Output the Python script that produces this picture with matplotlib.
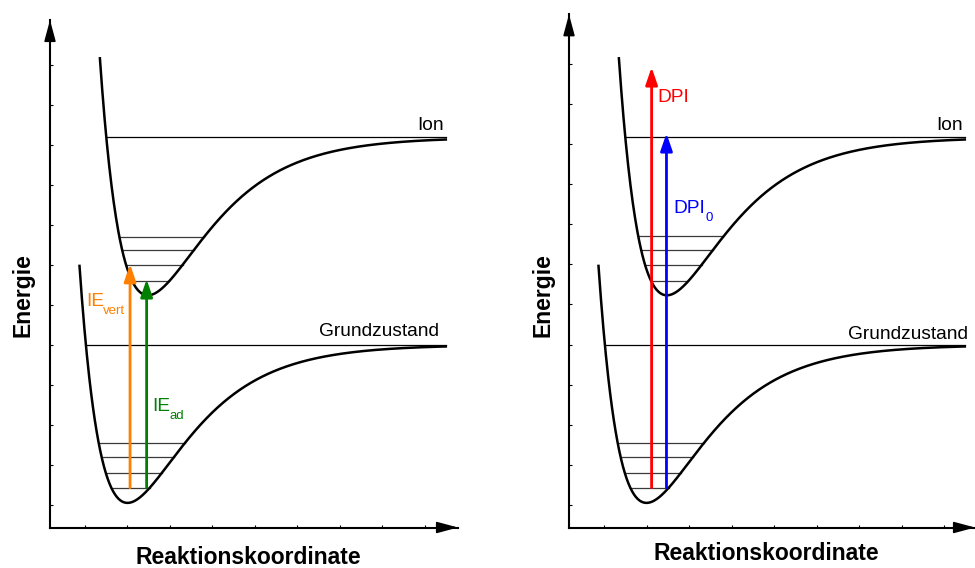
import numpy as np
import matplotlib
matplotlib.use("Agg")
import matplotlib.pyplot as plt

plt.rcParams["font.family"] = ["Liberation Sans", "DejaVu Sans"]

# Morse potentials (x: reaction coordinate, y: energy, in tick units)
MORSE_A = 0.708
CURVE_END = 9.49

GROUND_RE, GROUND_MIN, GROUND_DE = 2.0, 1.04, 3.95
ION_RE, ION_MIN, ION_DE = 2.48, 6.23, 3.95

# vibrational levels
GROUND_LEVELS = [1.42, 1.80, 2.18, 2.53]
ION_LEVELS = [6.59, 6.99, 7.37, 7.70]

# transitions: x position, start energy, end energy
IE_VERT = (2.06, 1.42, 7.01)
IE_AD = (2.45, 1.42, 6.63)
DPI = (2.12, 1.42, 11.93)
DPI0 = (2.47, 1.42, 10.28)

X_TICKS = list(range(1, 10))
Y_TICKS = list(range(1, 13))

W, H = 975, 568
fig = plt.figure(figsize=(W / 100, H / 100), dpi=100)

TICK1_PX, DX_PX = 85.0, 42.5      # x tick 1 position / spacing
Y1_PX, DY_PX = 504.5, 40.0        # y tick 1 position / spacing
BOTTOM_PX = 527.5


def make_axes(offset, right_px, top_px):
    left_px = 50 + offset
    ax = fig.add_axes([left_px / W, 1 - BOTTOM_PX / H,
                       (right_px - left_px) / W, (BOTTOM_PX - top_px) / H])
    t1 = TICK1_PX + offset
    ax.set_xlim(1 + (left_px - t1) / DX_PX, 1 + (right_px - t1) / DX_PX)
    ax.set_ylim(1 - (BOTTOM_PX - Y1_PX) / DY_PX, 1 + (Y1_PX - top_px) / DY_PX)
    for s in ("top", "right"):
        ax.spines[s].set_visible(False)
    for s in ("left", "bottom"):
        ax.spines[s].set_linewidth(1.5)
    ax.set_xticks(X_TICKS)
    ax.set_yticks(Y_TICKS)
    ax.tick_params(direction="in", length=2.5, width=0.8,
                   labelleft=False, labelbottom=False)
    head = "-|>,head_length=13,head_width=3.5"
    ax.annotate("", xy=(0, 1), xytext=(0, 0.95), xycoords="axes fraction",
                arrowprops=dict(arrowstyle=head, mutation_scale=1, color="k",
                                lw=1.2, shrinkA=0, shrinkB=0),
                annotation_clip=False)
    ax.annotate("", xy=(1, 0), xytext=(0.95, 0), xycoords="axes fraction",
                arrowprops=dict(arrowstyle=head, mutation_scale=1, color="k",
                                lw=1.2, shrinkA=0, shrinkB=0),
                annotation_clip=False)
    return ax


def morse(x, re, ymin, de):
    return ymin + de * (1 - np.exp(-MORSE_A * (x - re))) ** 2


def walls(level, re, ymin, de):
    s = min(np.sqrt((level - ymin) / de), 1.0)
    left = re - np.log(1 + s) / MORSE_A
    right = re - np.log(1 - s) / MORSE_A if s < 0.999 else CURVE_END
    return left, min(right, CURVE_END)


def draw_state(ax, re, ymin, de, levels):
    x0 = re - np.log(1 + np.sqrt(1.5)) / MORSE_A
    x = np.linspace(x0, CURVE_END, 600)
    ax.plot(x, morse(x, re, ymin, de), color="k", lw=1.8, zorder=3)
    for lv in levels:
        l, r = walls(lv, re, ymin, de)
        ax.plot([l, r], [lv, lv], color="#3a3a3a", lw=0.9, zorder=2)
    top = ymin + de
    l, r = walls(top, re, ymin, de)
    ax.plot([l, r], [top, top], color="k", lw=0.9, zorder=2)


def draw_arrow(ax, spec, color):
    x, y0, y1 = spec
    ax.annotate("", xy=(x, y1), xytext=(x, y0),
                arrowprops=dict(arrowstyle="-|>,head_length=10.5,head_width=3.6",
                                mutation_scale=1, color=color, lw=2.0,
                                shrinkA=0, shrinkB=0), zorder=5)


FS = 13.8
SUB_FS = 9.5


def label(ax, x, y, main, sub, color, sub_dx):
    ax.text(x, y, main, color=color, ha="left", va="baseline", fontsize=FS)
    if sub:
        ax.annotate(sub, xy=(x, y), xytext=(sub_dx, -5.5),
                    textcoords="offset points", color=color, ha="left",
                    va="baseline", fontsize=SUB_FS)


# left panel: ionisation energies
axl = make_axes(0, 458, 20)
draw_state(axl, GROUND_RE, GROUND_MIN, GROUND_DE, GROUND_LEVELS)
draw_state(axl, ION_RE, ION_MIN, ION_DE, ION_LEVELS)
draw_arrow(axl, IE_VERT, "#ff8000")
draw_arrow(axl, IE_AD, "#008000")
axl.text(9.45, 10.36, "Ion", ha="right", va="baseline", fontsize=FS)
axl.text(9.33, 5.21, "Grundzustand", ha="right", va="baseline", fontsize=FS)
label(axl, 1.02, 5.95, "IE", "vert", "#ff8000", 12.3)
label(axl, 2.58, 3.34, "IE", "ad", "#008000", 12.3)

# right panel: dissociative photoionisation
axr = make_axes(519, 975, 14.3)
draw_state(axr, GROUND_RE, GROUND_MIN, GROUND_DE, GROUND_LEVELS)
draw_state(axr, ION_RE, ION_MIN, ION_DE, ION_LEVELS)
draw_arrow(axr, DPI, "#ff0000")
draw_arrow(axr, DPI0, "#0000ff")
axr.text(9.45, 10.35, "Ion", ha="right", va="baseline", fontsize=FS)
axr.text(9.56, 5.14, "Grundzustand", ha="right", va="baseline", fontsize=FS)
label(axr, 2.26, 11.05, "DPI", "", "#ff0000", 0)
label(axr, 2.63, 8.28, "DPI", "0", "#0000ff", 23.3)

# axis titles
for cx, cy in ((248.5, 557), (766.5, 553)):
    fig.text(cx / W, 1 - cy / H, "Reaktionskoordinate", ha="center",
             va="center", fontsize=16.5, fontweight="bold")
for cx, cy in ((23, 295), (543, 295)):
    fig.text(cx / W, 1 - cy / H, "Energie", ha="center", va="center",
             rotation=90, fontsize=16.5, fontweight="bold")

fig.savefig("out.png", dpi=100)
